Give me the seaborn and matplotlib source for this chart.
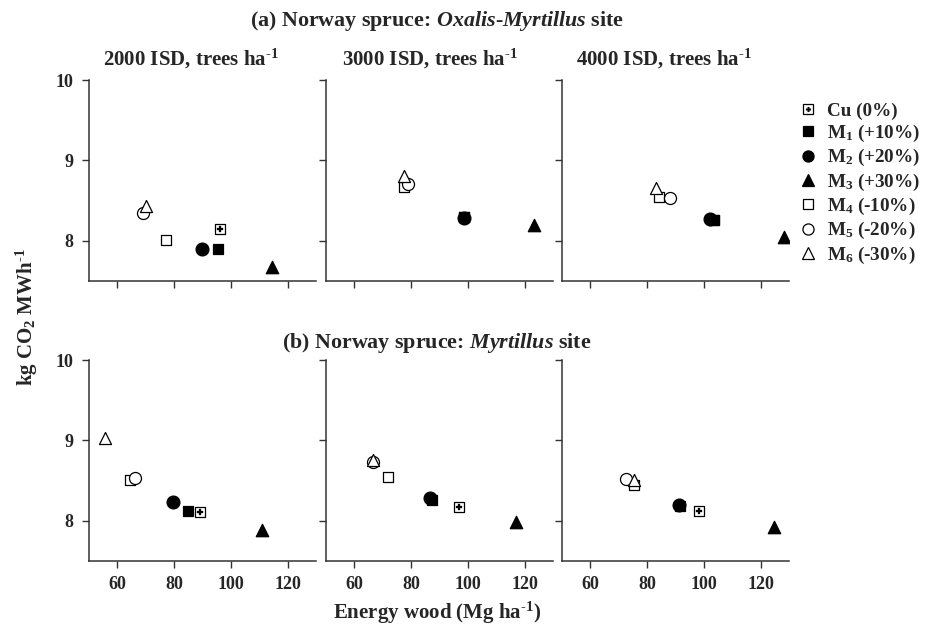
import matplotlib
matplotlib.use("Agg")
import matplotlib.pyplot as plt
import pandas as pd
import seaborn as sns
from matplotlib.lines import Line2D

# treatments (legend order)
treatments = ["Cu", "M1", "M2", "M3", "M4", "M5", "M6"]
labels = ["Cu (0%)", "M$_1$ (+10%)", "M$_2$ (+20%)", "M$_3$ (+30%)",
          "M$_4$ (-10%)", "M$_5$ (-20%)", "M$_6$ (-30%)"]
densities = [2000, 3000, 4000]

# (a) Oxalis-Myrtillus site: energy wood (Mg/ha) and kg CO2/MWh
energy_om_2000 = [96.0, 95.4, 90.0, 114.5, 77.2, 69.2, 70.1]
co2_om_2000 = [8.15, 7.90, 7.90, 7.67, 8.01, 8.35, 8.43]
energy_om_3000 = [98.5, 98.7, 98.5, 123.4, 77.5, 79.0, 77.6]
co2_om_3000 = [8.29, 8.30, 8.28, 8.20, 8.67, 8.71, 8.81]
energy_om_4000 = [103.5, 103.6, 102.0, 128.1, 84.2, 88.1, 83.1]
co2_om_4000 = [8.26, 8.26, 8.27, 8.05, 8.54, 8.53, 8.66]

# (b) Myrtillus site
energy_m_2000 = [89.1, 85.0, 79.5, 111.1, 64.4, 66.3, 55.5]
co2_m_2000 = [8.11, 8.12, 8.23, 7.89, 8.51, 8.53, 9.03]
energy_m_3000 = [96.7, 87.5, 86.5, 117.0, 71.8, 66.7, 66.7]
co2_m_3000 = [8.17, 8.26, 8.28, 7.98, 8.55, 8.73, 8.76]
energy_m_4000 = [98.2, 91.5, 91.1, 124.6, 75.3, 72.6, 75.2]
co2_m_4000 = [8.12, 8.19, 8.20, 7.92, 8.44, 8.52, 8.51]

HY = "\u2010"  # short hyphen used in the superscripts


def build_frame():
    rows = []
    series = {
        ("a", 2000): (energy_om_2000, co2_om_2000),
        ("a", 3000): (energy_om_3000, co2_om_3000),
        ("a", 4000): (energy_om_4000, co2_om_4000),
        ("b", 2000): (energy_m_2000, co2_m_2000),
        ("b", 3000): (energy_m_3000, co2_m_3000),
        ("b", 4000): (energy_m_4000, co2_m_4000),
    }
    for (site, dens), (xs, ys) in series.items():
        for t, x, y in zip(treatments, xs, ys):
            rows.append({"site": site, "density": dens, "treatment": t,
                         "energy": x, "co2": y})
    return pd.DataFrame(rows)


# marker, face colour, size
styles = {
    "Cu": ("s", "white", 55),
    "M1": ("s", "black", 60),
    "M2": ("o", "black", 85),
    "M3": ("^", "black", 80),
    "M4": ("s", "white", 60),
    "M5": ("o", "white", 75),
    "M6": ("^", "white", 75),
}

sns.set_style("ticks")
plt.rcParams["font.family"] = ["Liberation Serif", "DejaVu Serif"]
plt.rcParams["font.weight"] = "bold"
plt.rcParams["mathtext.fontset"] = "custom"
plt.rcParams["mathtext.rm"] = "Liberation Serif:bold"
plt.rcParams["mathtext.bf"] = "Liberation Serif:bold"
plt.rcParams["mathtext.it"] = "Liberation Serif:italic:bold"
plt.rcParams["mathtext.default"] = "rm"

df = build_frame()

fig = plt.figure(figsize=(9.31, 6.34), dpi=100)
lefts = [0.0956, 0.3502, 0.6037]
bottoms = {"a": 0.5568, "b": 0.1151}
width, height = 0.2438, 0.317

for site in ["a", "b"]:
    for j, dens in enumerate(densities):
        ax = fig.add_axes([lefts[j], bottoms[site], width, height])
        sub = df[(df["site"] == site) & (df["density"] == dens)]
        for t in treatments:
            pt = sub[sub["treatment"] == t]
            marker, face, size = styles[t]
            sns.scatterplot(data=pt, x="energy", y="co2", marker=marker,
                            s=size, color=face, edgecolor="black",
                            linewidth=0.9, ax=ax, zorder=3)
            if t == "Cu":
                sns.scatterplot(data=pt, x="energy", y="co2", marker="P",
                                s=14, color="black", edgecolor="black",
                                linewidth=0.2, ax=ax, zorder=4)
        ax.set_xlim(50, 130)
        ax.set_ylim(7.5, 10)
        ax.set_xticks([60, 80, 100, 120])
        ax.set_yticks([8, 9, 10])
        ax.set_xlabel("")
        ax.set_ylabel("")
        sns.despine(ax=ax)
        for s in ["left", "bottom"]:
            ax.spines[s].set_color("#333333")
            ax.spines[s].set_linewidth(1.1)
        ax.tick_params(direction="out", length=5, width=1, color="#333333",
                       labelsize=13, pad=6)
        if j > 0:
            ax.set_yticklabels([])
        if site == "a":
            ax.set_xticklabels([])

fig.text(0.469, 0.967, r"(a) Norway spruce: $\mathit{Oxalis}$-$\mathit{Myrtillus}$ site",
         ha="center", va="center", fontsize=15.8)
fig.text(0.469, 0.459, r"(b) Norway spruce: $\mathit{Myrtillus}$ site",
         ha="center", va="center", fontsize=15.8)
for xc, dens in zip([0.205, 0.462, 0.713], densities):
    fig.text(xc, 0.907, f"{dens} ISD, trees ha$^{{{HY}1}}$", ha="center",
             va="center", fontsize=15)
fig.text(0.029, 0.5, f"kg CO$_2$ MWh$^{{{HY}1}}$", rotation=90, ha="center",
         va="center", fontsize=15)
fig.text(0.470, 0.034, f"Energy wood (Mg ha$^{{{HY}1}}$)", ha="center",
         va="center", fontsize=15)

handles = []
for t in treatments:
    marker, face, size = styles[t]
    h = Line2D([], [], linestyle="none", marker=marker,
               markersize=8 if marker != "s" else 7.5,
               markerfacecolor=face, markeredgecolor="black", markeredgewidth=0.9)
    if t == "Cu":
        h = (Line2D([], [], linestyle="none", marker="s", markersize=6.5,
                    markerfacecolor="white", markeredgecolor="black",
                    markeredgewidth=0.9),
             Line2D([], [], linestyle="none", marker="P", markersize=3.5,
                    markerfacecolor="black", markeredgecolor="black",
                    markeredgewidth=0.2))
    handles.append(h)
fig.legend(handles, labels, loc="upper left", bbox_to_anchor=(0.858, 0.839),
           frameon=False, fontsize=13.75, handlelength=1.0, handletextpad=0.5,
           labelspacing=0.17, borderpad=0, borderaxespad=0)

fig.savefig("out.png", dpi=100)
